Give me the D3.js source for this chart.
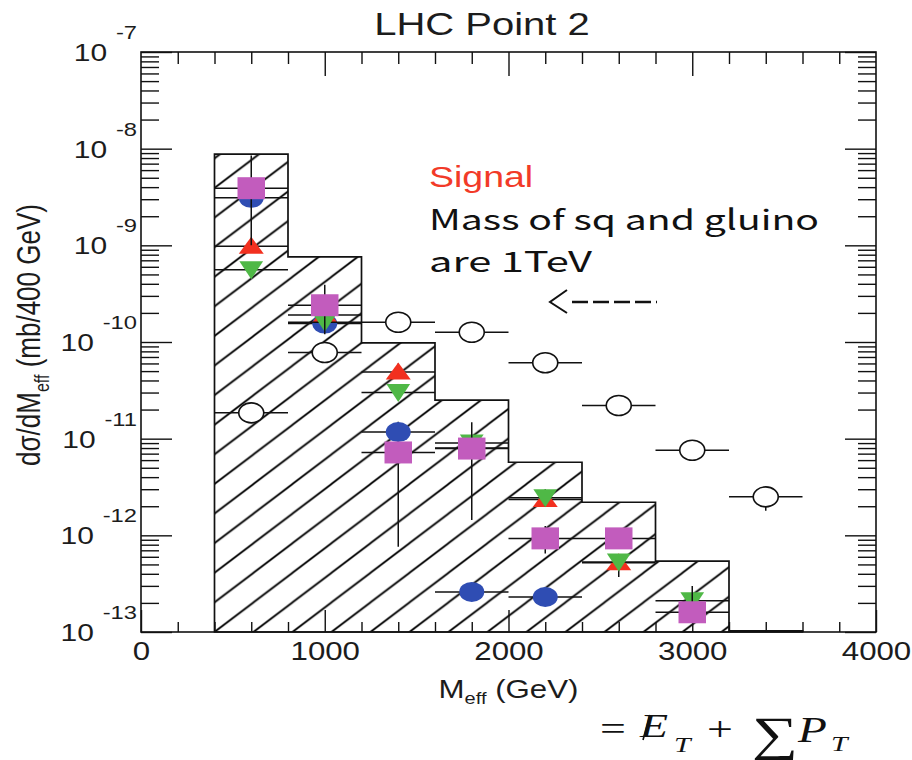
<!DOCTYPE html>
<html>
<head>
<meta charset="utf-8">
<style>
  body { margin: 0; background: #fff; }
  svg { display: block; }
  .tick line { stroke: #111; stroke-width: 1.4px; }
</style>
</head>
<body>
<svg id="chart" width="912" height="760"></svg>
<script src="https://d3js.org/d3.v7.min.js"></script>
<script>
// bin centres of the M_eff distribution (GeV), every point spans +-200
var massBins = [600, 1000, 1400, 1800, 2200, 2600, 3000, 3400];
var binHalf = 200;

// hatched histogram
var histEdges  = [400, 800, 1200, 1600, 2000, 2400, 2800, 3200, 3600];
var histValues = [8.8e-9, 7.6e-10, 9.8e-11, 2.5e-11, 5.7e-12, 2.2e-12, 5.4e-13, 1.03e-13];

// open circles
var bgValues = [1.85e-11, 7.8e-11, 1.6e-10, 1.26e-10, 6.1e-11, 2.2e-11, 7.6e-12, 2.5e-12];
var bgLo     = [null, 6.5e-11, null, null, null, null, null, 1.8e-12];
var bgHi     = [null, 9.5e-11, null, null, null, null, null, 2.7e-12];

// coloured signal points
var blueValues    = [3.1e-9, 1.55e-10, 1.17e-11, 2.6e-13, 2.3e-13, null, null, null];
var blueLo        = [null, null, 9.0e-12, null, null, null, null, null];
var blueHi        = [null, null, 1.5e-11, null, null, null, null, null];
var redValues     = [9.8e-10, 1.9e-10, 4.9e-11, 8.0e-12, 2.35e-12, 5.2e-13, null, null];
var redLo         = [null, null, null, null, null, null, null, null];
var redHi         = [null, null, 6.0e-11, null, null, null, null, null];
var greenValues   = [5.6e-10, 1.6e-10, 3.0e-11, 9.0e-12, 2.45e-12, 5.3e-13, 2.1e-13, null];
var greenLo       = [null, null, null, null, 2.0e-12, 3.7e-13, null, null];
var greenHi       = [null, null, null, null, 3.0e-12, null, null, null];
var magentaValues = [3.9e-9, 2.4e-10, 7.2e-12, 7.9e-12, 9.3e-13, 9.3e-13, 1.6e-13, null];
var magentaLo     = [1.0e-9, 1.2e-10, 7.6e-13, 1.44e-12, 6.5e-13, null, null, null];
var magentaHi     = [8.5e-9, 3.9e-10, null, 1.48e-11, 1.25e-12, null, 3.0e-13, null];

// axis ticks
var xLabelTicks = [0, 1000, 2000, 3000, 4000];
var xMajorTicks = [1000, 2000, 3000];
var xMinorTicks = [200, 400, 600, 800, 1200, 1400, 1600, 1800, 2200, 2400, 2600, 2800, 3200, 3400, 3600, 3800];
var yExponents  = [-7, -8, -9, -10, -11, -12, -13];

var width = 912, height = 760;
var margin = {top: 52, right: 36, bottom: 128, left: 141};
var ink = "#1c1c1c";
var sx = 1.25;   // the whole picture is a bit wider than tall

var x = d3.scaleLinear().domain([0, 4000]).range([margin.left, width - margin.right]);
var y = d3.scaleLog().domain([1e-13, 1e-7]).range([height - margin.bottom, margin.top]);

var yMinorTicks = [];
for (var e = -13; e < -7; e++)
  for (var m = 2; m <= 9; m++) yMinorTicks.push(m * Math.pow(10, e));
var yMajorTicks = yExponents.map(function(e) { return Math.pow(10, e); });

var svg = d3.select("#chart");

// hatch pattern, phase tied to the lower-left corner of the histogram
var hw = 39, hh = 29.6;
svg.append("defs").append("pattern")
    .attr("id", "hatch")
    .attr("patternUnits", "userSpaceOnUse")
    .attr("x", x(histEdges[0])).attr("y", y(1e-13))
    .attr("width", hw).attr("height", hh)
  .append("path")
    .attr("d", "M0," + hh + "L" + hw + ",0" +
               "M" + (-hw / 4) + "," + (hh / 4) + "L" + (hw / 4) + "," + (-hh / 4) +
               "M" + (hw * 3 / 4) + "," + (hh * 5 / 4) + "L" + (hw * 5 / 4) + "," + (hh * 3 / 4))
    .style("stroke", "#000").style("stroke-width", 1.8);

var histData = histEdges.map(function(edge, i) {
  return {edge: edge, value: histValues[Math.min(i, histValues.length - 1)]};
});

var area = d3.area()
    .x(function(d) { return x(d.edge); })
    .y0(y(1e-13))
    .y1(function(d) { return y(d.value); })
    .curve(d3.curveStepAfter);

svg.append("path")
    .datum(histData)
    .attr("d", area)
    .style("fill", "url(#hatch)")
    .style("stroke", "#111")
    .style("stroke-width", 1.7);

// frame + ticks
svg.append("rect")
    .attr("x", x(0)).attr("y", y(1e-7))
    .attr("width", x(4000) - x(0)).attr("height", y(1e-13) - y(1e-7))
    .style("fill", "none").style("stroke", "#111").style("stroke-width", 1.6);

function noDomain(g) { g.select(".domain").remove(); }

svg.append("g").attr("transform", "translate(" + x(0) + ",0)")
    .call(d3.axisLeft(y).tickValues(yMinorTicks).tickSize(-18).tickFormat(""))
    .call(noDomain);
svg.append("g").attr("transform", "translate(" + x(0) + ",0)")
    .call(d3.axisLeft(y).tickValues(yMajorTicks).tickSize(-31).tickFormat(""))
    .call(noDomain);
svg.append("g").attr("transform", "translate(" + x(4000) + ",0)")
    .call(d3.axisRight(y).tickValues(yMinorTicks).tickSize(-18).tickFormat(""))
    .call(noDomain);
svg.append("g").attr("transform", "translate(" + x(4000) + ",0)")
    .call(d3.axisRight(y).tickValues(yMajorTicks).tickSize(-31).tickFormat(""))
    .call(noDomain);

svg.append("g").attr("transform", "translate(0," + y(1e-7) + ")")
    .call(d3.axisTop(x).tickValues(xMinorTicks).tickSize(-12).tickFormat(""))
    .call(noDomain);
svg.append("g").attr("transform", "translate(0," + y(1e-7) + ")")
    .call(d3.axisTop(x).tickValues(xMajorTicks).tickSize(-24).tickFormat(""))
    .call(noDomain);
svg.append("g").attr("transform", "translate(0," + y(1e-13) + ")")
    .call(d3.axisBottom(x).tickValues(xMinorTicks).tickSize(-10).tickFormat(""))
    .call(noDomain);
var xAxis = svg.append("g").attr("transform", "translate(0," + y(1e-13) + ")")
    .call(d3.axisBottom(x).tickValues(xLabelTicks).tickSize(-22).tickPadding(10).tickFormat(d3.format("d")))
    .call(noDomain);
xAxis.attr("font-family", "'Liberation Sans', Arial, sans-serif").attr("font-size", 25);
xAxis.selectAll("text").style("fill", ink).attr("transform", "scale(" + sx + ",1)");

// y labels 10^-n
yExponents.forEach(function(e) {
  var t = svg.append("text")
      .attr("transform", "translate(137," + (y(Math.pow(10, e)) + 9) + ") scale(" + sx + ",1)")
      .attr("text-anchor", "end")
      .style("font-family", "'Liberation Sans', Arial, sans-serif")
      .style("fill", ink);
  t.append("tspan").style("font-size", "24px").text("10");
  t.append("tspan").attr("dx", 7).attr("dy", -22).style("font-size", "19px").text(String(e));
});

// error bars and markers
var sqPath   = "M-11,-11H11V11H-11Z";
var upPath   = "M0,-9.5L10,7.5L-10,7.5Z";
var downPath = "M0,9.5L9.5,-8.5L-9.5,-8.5Z";
var circPath = d3.symbol(d3.symbolCircle, Math.PI * 100)();

var series = [
  {values: bgValues,      lo: bgLo,      hi: bgHi,      shape: circPath, fill: "#fff",    stroke: "#111"},
  {values: blueValues,    lo: blueLo,    hi: blueHi,    shape: circPath, fill: "#2f4db3", stroke: "none"},
  {values: redValues,     lo: redLo,     hi: redHi,     shape: upPath,   fill: "#f2301f", stroke: "none"},
  {values: greenValues,   lo: greenLo,   hi: greenHi,   shape: downPath, fill: "#4fb846", stroke: "none"},
  {values: magentaValues, lo: magentaLo, hi: magentaHi, shape: sqPath,   fill: "#c25cbd", stroke: "none"}
];

series.forEach(function(s) {
  var pts = massBins.map(function(c, i) {
    return {c: c, v: s.values[i], lo: s.lo[i], hi: s.hi[i]};
  }).filter(function(d) { return d.v != null; });

  var g = svg.append("g");
  g.selectAll("line.h").data(pts).enter().append("line")
      .attr("x1", function(d) { return x(d.c - binHalf); })
      .attr("x2", function(d) { return x(d.c + binHalf); })
      .attr("y1", function(d) { return y(d.v); })
      .attr("y2", function(d) { return y(d.v); })
      .style("stroke", "#111").style("stroke-width", 1.5);
  g.selectAll("line.v").data(pts.filter(function(d) { return d.lo != null || d.hi != null; }))
    .enter().append("line")
      .attr("x1", function(d) { return x(d.c); })
      .attr("x2", function(d) { return x(d.c); })
      .attr("y1", function(d) { return y(d.lo != null ? d.lo : d.v); })
      .attr("y2", function(d) { return y(d.hi != null ? d.hi : d.v); })
      .style("stroke", "#111").style("stroke-width", 1.5);
  g.selectAll("path").data(pts).enter().append("path")
      .attr("d", s.shape)
      .attr("transform", function(d) { return "translate(" + x(d.c) + "," + y(d.v) + ") scale(" + sx + ",1)"; })
      .attr("vector-effect", "non-scaling-stroke")
      .style("fill", s.fill)
      .style("stroke", s.stroke)
      .style("stroke-width", 1.6);
});

// titles
svg.append("text")
    .attr("transform", "translate(482,35) scale(" + sx + ",1)")
    .attr("text-anchor", "middle")
    .style("font-family", "'Liberation Sans', Arial, sans-serif")
    .style("font-size", "32px").style("fill", ink)
    .text("LHC Point 2");

var xt = svg.append("text")
    .attr("transform", "translate(" + x(2000) + ",698) scale(" + sx + ",1)")
    .attr("text-anchor", "middle")
    .style("font-family", "'Liberation Sans', Arial, sans-serif")
    .style("font-size", "25px").style("fill", ink);
xt.append("tspan").text("M");
xt.append("tspan").attr("dy", 6).style("font-size", "16px").text("eff");
xt.append("tspan").attr("dy", -6).text(" (GeV)");

var yt = svg.append("text")
    .attr("transform", "translate(40,335) scale(" + sx + ",1) rotate(-90)")
    .attr("text-anchor", "middle")
    .style("font-family", "'Liberation Sans', Arial, sans-serif")
    .style("font-size", "26px").style("fill", ink);
yt.append("tspan").text("d\u03c3/dM");
yt.append("tspan").attr("dy", 7).style("font-size", "16px").text("eff");
yt.append("tspan").attr("dy", -7).text(" (mb/400 GeV)");

// annotation
svg.append("text")
    .attr("transform", "translate(429,187) scale(" + sx + ",1)")
    .style("font-family", "'Liberation Sans', Arial, sans-serif")
    .style("font-size", "30px").style("fill", "#f23a28")
    .text("Signal");
svg.append("text")
    .attr("x", 429).attr("y", 230)
    .attr("textLength", 390).attr("lengthAdjust", "spacingAndGlyphs")
    .style("font-family", "'Noto Sans CJK JP', 'Noto Sans', sans-serif")
    .style("font-size", "28px").style("fill", "#111")
    .text("Mass of sq and gluino");
svg.append("text")
    .attr("x", 429).attr("y", 272)
    .attr("textLength", 163).attr("lengthAdjust", "spacingAndGlyphs")
    .style("font-family", "'Noto Sans CJK JP', 'Noto Sans', sans-serif")
    .style("font-size", "28px").style("fill", "#111")
    .text("are 1TeV");

// arrow pointing at the open circles
svg.append("path")
    .attr("d", "M567,290L550,302L567,313")
    .style("fill", "none").style("stroke", "#111").style("stroke-width", 2);
svg.append("line")
    .attr("x1", 572).attr("x2", 657).attr("y1", 302).attr("y2", 302)
    .style("stroke", "#111").style("stroke-width", 2.6).style("stroke-dasharray", "16,5");

// formula M_eff = missing E_T + sum P_T
var serif = "'Liberation Serif', 'Times New Roman', serif";
function piece(px, py, size, italic, str) {
  return svg.append("text")
      .attr("transform", "translate(" + px + "," + py + ") scale(1.35,1)")
      .style("font-family", serif)
      .style("font-style", italic ? "italic" : "normal")
      .style("font-size", size + "px").style("fill", "#111")
      .text(str);
}
piece(600, 740, 34, false, "=");
piece(640, 737, 34, true, "E");
piece(674, 752, 22, true, "T");
piece(707, 740, 34, false, "+");
piece(752, 750, 48, false, "\u2211");
piece(798, 742, 35, true, "P");
piece(831, 751, 22, true, "T");
svg.append("line")
    .attr("x1", 643).attr("y1", 740).attr("x2", 650).attr("y2", 715)
    .style("stroke", "#111").style("stroke-width", 1.6);
</script>
</body>
</html>
